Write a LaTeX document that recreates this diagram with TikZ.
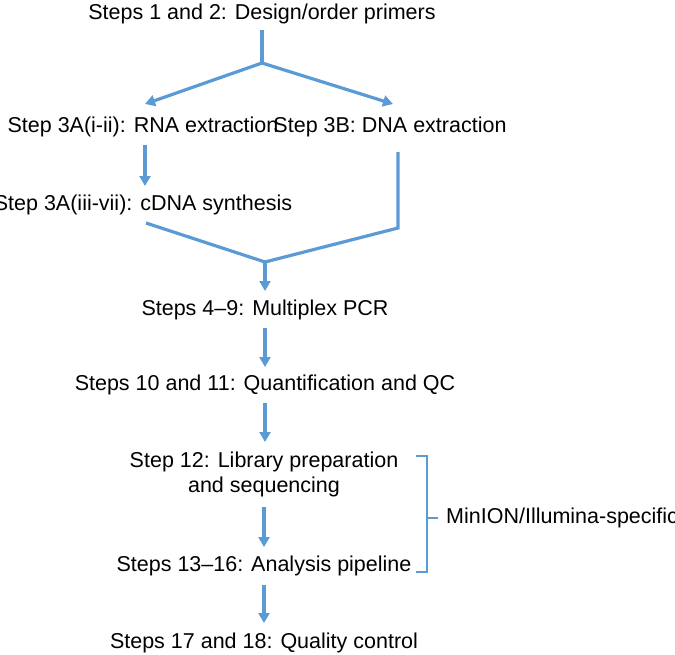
\documentclass[tikz,border=0pt]{standalone}
\usepackage{fontspec}
\setmainfont{Liberation Sans}
\usetikzlibrary{arrows.meta,positioning}
\definecolor{flowblue}{HTML}{5B9BD5}
\begin{document}
\begin{tikzpicture}[x=1pt, y=-1pt,
    stepbox/.style={font=\fontsize{21.5}{25}\selectfont, inner sep=0pt, align=center},
    flow/.style={draw=flowblue, line width=3.2pt, -{Triangle[length=10pt,width=11pt]}},
    link/.style={draw=flowblue, line width=3.2pt}]

    \useasboundingbox (0,0) rectangle (675,654);

    % -- Passi --
    \node[stepbox] (primers) at (262,14) {Steps 1 and 2: Design/order primers};
    \node[stepbox] (rna) at (143,127) {Step 3A(i-ii): RNA extraction};
    \node[stepbox] (dna) at (390,127) {Step 3B: DNA extraction};
    \node[stepbox] (cdna) at (143,205) {Step 3A(iii-vii): cDNA synthesis};
    \node[stepbox] (pcr) at (265,310) {Steps 4--9: Multiplex PCR};
    \node[stepbox] (quant) at (265,385) {Steps 10 and 11: Quantification and QC};
    \node[stepbox] (lib) at (264,474) {Step 12: Library preparation\\and sequencing};
    \node[stepbox] (pipe) at (264,566) {Steps 13--16: Analysis pipeline};
    \node[stepbox] (qc) at (264,643) {Steps 17 and 18: Quality control};
    \node[stepbox, anchor=west] (minion) at (446,518) {MinION/Illumina-specific};

    % -- Biforcazione e riunione --
    \coordinate (top) at (262,30);
    \coordinate (split) at (262,63);
    \coordinate (merge) at (265,262);
    \coordinate (dnabend) at (398,228);
    \coordinate (brace) at (427,518);
    \coordinate (bracetip) at (438,518);

    \draw[link] (top) -- (split);
    \draw[flow] (split) -- (145,104);
    \draw[flow] (split) -- (393,104);
    \draw[flow] (145,145) -- (145,186);
    \draw[link] (146,223) -- (merge);
    \draw[link] (398,152) -- (dnabend) -- (merge);
    \draw[flow] (merge) -- (265,291);

    % -- Catena verticale --
    \draw[flow] (265,328) -- (265,367);
    \draw[flow] (265,403) -- (265,442);
    \draw[flow] (264,507) -- (264,547);
    \draw[flow] (264,585) -- (264,623);

    % -- Parentesi --
    \draw[link, line width=2.6pt] (416,456) -- (427,456) -- (427,572) -- (416,572);
    \draw[link, line width=2.6pt] (brace) -- (bracetip);
\end{tikzpicture}
\end{document}
